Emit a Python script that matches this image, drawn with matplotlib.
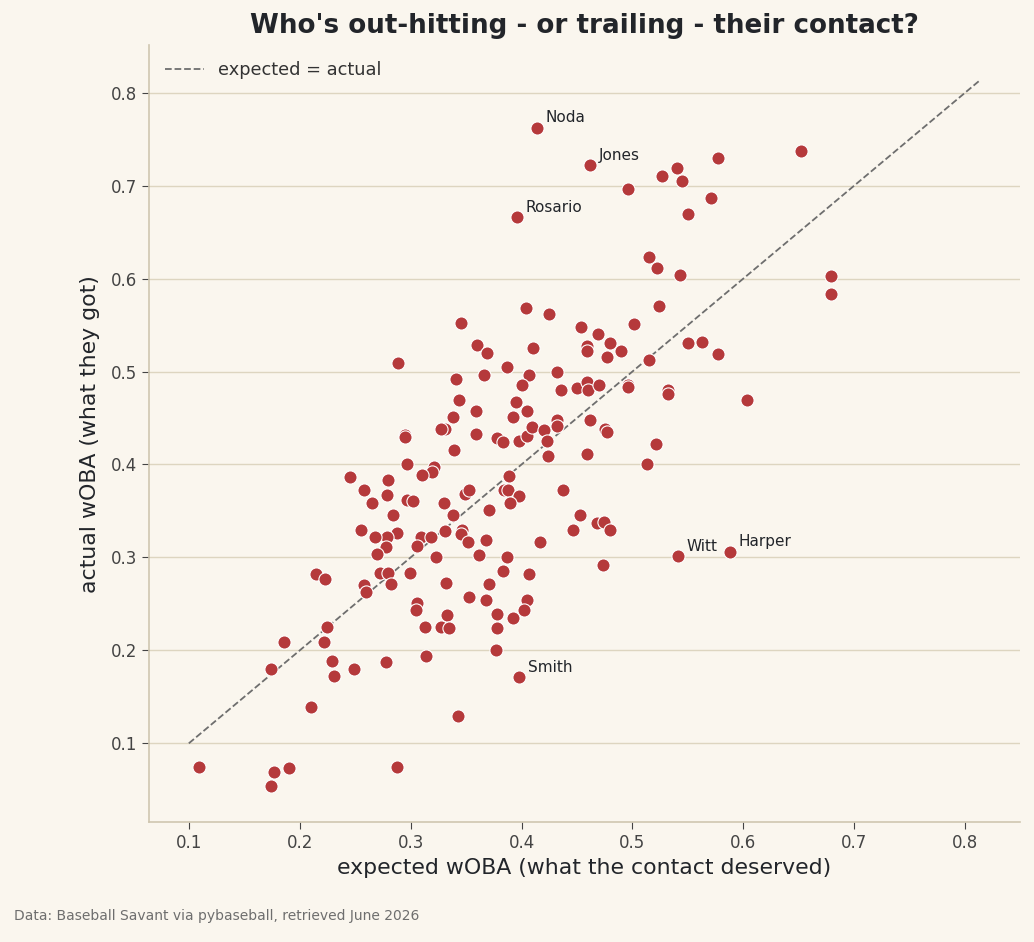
import matplotlib
matplotlib.use("Agg")
import matplotlib.pyplot as plt

# expected wOBA (x) and actual wOBA (y) per hitter
xwoba = [0.414, 0.462, 0.396, 0.496, 0.527, 0.540, 0.545, 0.577, 0.571, 0.550,
         0.652, 0.515, 0.522, 0.543, 0.679, 0.679, 0.524, 0.404, 0.425, 0.345,
         0.454, 0.501, 0.469, 0.480, 0.459, 0.459, 0.360, 0.369, 0.410, 0.550,
         0.563, 0.577, 0.490, 0.477, 0.515, 0.289, 0.387, 0.366, 0.407, 0.432,
         0.341, 0.400, 0.436, 0.450, 0.459, 0.460, 0.470, 0.496, 0.496, 0.532,
         0.532, 0.603, 0.344, 0.395, 0.338, 0.359, 0.392, 0.405, 0.462, 0.432,
         0.432, 0.331, 0.327, 0.295, 0.295, 0.359, 0.378, 0.383, 0.398, 0.405,
         0.409, 0.420, 0.423, 0.475, 0.477, 0.339, 0.424, 0.459, 0.521, 0.513,
         0.297, 0.321, 0.319, 0.310, 0.389, 0.245, 0.280, 0.258, 0.279, 0.265,
         0.297, 0.302, 0.284, 0.330, 0.338, 0.371, 0.384, 0.388, 0.398, 0.390,
         0.437, 0.349, 0.353, 0.453, 0.446, 0.468, 0.474, 0.480, 0.417, 0.288,
         0.279, 0.268, 0.255, 0.309, 0.318, 0.331, 0.346, 0.345, 0.352, 0.368,
         0.306, 0.278, 0.270, 0.323, 0.362, 0.387, 0.473, 0.541, 0.588, 0.215,
         0.223, 0.272, 0.280, 0.299, 0.282, 0.258, 0.260, 0.332, 0.383, 0.407,
         0.371, 0.353, 0.368, 0.405, 0.306, 0.305, 0.333, 0.378, 0.392, 0.402,
         0.313, 0.327, 0.335, 0.378, 0.225, 0.186, 0.222, 0.377, 0.229, 0.278,
         0.314, 0.249, 0.174, 0.231, 0.398, 0.210, 0.343, 0.109, 0.177, 0.190,
         0.174, 0.288]
woba = [0.762, 0.722, 0.666, 0.696, 0.710, 0.719, 0.705, 0.730, 0.687, 0.669,
        0.737, 0.623, 0.611, 0.604, 0.603, 0.583, 0.570, 0.568, 0.562, 0.552,
        0.548, 0.551, 0.540, 0.531, 0.527, 0.522, 0.529, 0.520, 0.525, 0.531,
        0.532, 0.519, 0.522, 0.516, 0.512, 0.509, 0.505, 0.496, 0.496, 0.500,
        0.492, 0.485, 0.480, 0.482, 0.489, 0.480, 0.485, 0.485, 0.483, 0.480,
        0.476, 0.469, 0.469, 0.467, 0.451, 0.458, 0.451, 0.457, 0.448, 0.448,
        0.441, 0.438, 0.438, 0.432, 0.430, 0.433, 0.428, 0.424, 0.425, 0.431,
        0.440, 0.437, 0.425, 0.438, 0.435, 0.416, 0.409, 0.411, 0.422, 0.400,
        0.400, 0.397, 0.392, 0.389, 0.388, 0.386, 0.383, 0.373, 0.367, 0.359,
        0.362, 0.361, 0.346, 0.359, 0.346, 0.351, 0.372, 0.373, 0.366, 0.359,
        0.372, 0.368, 0.373, 0.346, 0.329, 0.337, 0.338, 0.330, 0.317, 0.326,
        0.322, 0.322, 0.329, 0.322, 0.322, 0.328, 0.329, 0.325, 0.317, 0.319,
        0.312, 0.311, 0.304, 0.300, 0.303, 0.300, 0.292, 0.301, 0.306, 0.282,
        0.277, 0.283, 0.283, 0.283, 0.271, 0.270, 0.263, 0.272, 0.285, 0.282,
        0.271, 0.257, 0.254, 0.254, 0.251, 0.243, 0.238, 0.239, 0.235, 0.243,
        0.225, 0.225, 0.224, 0.224, 0.225, 0.209, 0.209, 0.200, 0.189, 0.188,
        0.194, 0.180, 0.180, 0.172, 0.171, 0.139, 0.129, 0.075, 0.069, 0.074,
        0.054, 0.075]

# labelled hitters: name -> index into the arrays above
labels = {"Noda": 0, "Jones": 1, "Rosario": 2, "Witt": 127, "Harper": 128, "Smith": 164}

line_lo, line_hi = 0.1, 0.813

bg = "#faf6ee"
grid_c = "#ddd5c0"
dot_c = "#b5393b"
text_c = "#22252a"

fig = plt.figure(figsize=(10.34, 9.42), dpi=100, facecolor=bg)
ax = fig.add_axes([0.144, 0.127, 0.842, 0.825], facecolor=bg)

ax.plot([line_lo, line_hi], [line_lo, line_hi], ls="--", color="#6e6e6e",
        lw=1.3, label="expected = actual", zorder=2)
ax.scatter(xwoba, woba, s=90, color=dot_c, edgecolor="white", linewidth=0.8, zorder=3)

for name, i in labels.items():
    ax.annotate(name, (xwoba[i], woba[i]), xytext=(6, 4), textcoords="offset points",
                fontsize=11, color=text_c, zorder=4)

ax.set_xlim(0.064, 0.849)
ax.set_ylim(0.015, 0.851)
ax.set_xticks([0.1, 0.2, 0.3, 0.4, 0.5, 0.6, 0.7, 0.8])
ax.set_yticks([0.1, 0.2, 0.3, 0.4, 0.5, 0.6, 0.7, 0.8])
ax.yaxis.grid(True, color=grid_c, lw=1)
ax.set_axisbelow(True)
for s in ["top", "right"]:
    ax.spines[s].set_visible(False)
for s in ["left", "bottom"]:
    ax.spines[s].set_color("#cfc6b0")
    ax.spines[s].set_linewidth(1.2)
ax.tick_params(labelsize=12, colors="#444444", length=5)

ax.set_xlabel("expected wOBA (what the contact deserved)", fontsize=15.8, color=text_c)
ax.set_ylabel("actual wOBA (what they got)", fontsize=15.8, color=text_c, labelpad=8)
ax.set_title("Who's out-hitting - or trailing - their contact?", fontsize=18.8,
             fontweight="bold", color=text_c, pad=9)

leg = ax.legend(loc="upper left", frameon=False, fontsize=12.8, handlelength=2.2)
for t in leg.get_texts():
    t.set_color("#333333")
fig.text(0.0135, 0.0235, "Data: Baseball Savant via pybaseball, retrieved June 2026",
         fontsize=10, color="#6e6e6e")

fig.savefig("out.png", dpi=100, facecolor=bg)
